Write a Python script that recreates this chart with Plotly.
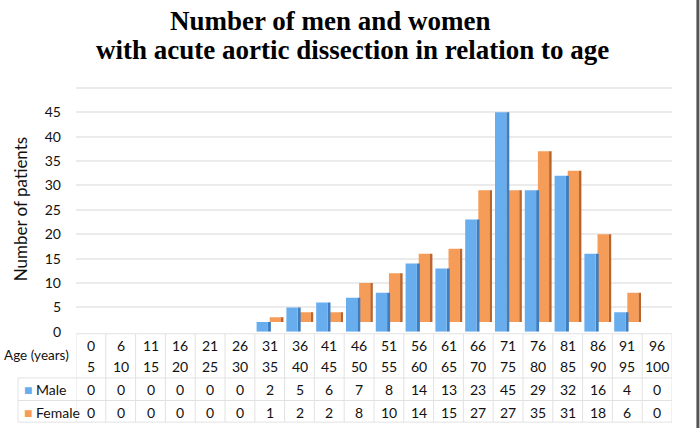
import plotly.graph_objects as go

age_from = [0, 6, 11, 16, 21, 26, 31, 36, 41, 46, 51, 56, 61, 66, 71, 76, 81, 86, 91, 96]
age_to = [5, 10, 15, 20, 25, 30, 35, 40, 45, 50, 55, 60, 65, 70, 75, 80, 85, 90, 95, 100]
male = [0, 0, 0, 0, 0, 0, 2, 5, 6, 7, 8, 14, 13, 23, 45, 29, 32, 16, 4, 0]
female = [0, 0, 0, 0, 0, 0, 1, 2, 2, 8, 10, 14, 15, 27, 27, 35, 31, 18, 6, 0]
y_ticks = [0, 5, 10, 15, 20, 25, 30, 35, 40, 45, 50]

W, H = 700, 436
MALE_C = "#68AEEE"
MALE_SIDE = "#3F7DBE"
FEM_C = "#F59D58"
FEM_SIDE = "#B8652E"
FONT = "Lato"
TXT = "#111"
GRID = "#E2E2E2"
DEPTH = 2.0  # back row (female) sits higher, as in the 3-D original


def py(px):
    return (H - px) / H


x_left, x_right = 76 / W, 672 / W
y_bot, y_top = py(338), py(88)
idx = list(range(len(age_from)))
n = len(idx)

fig = go.Figure()
# back row: female (side face first, then front face)
fig.add_trace(go.Bar(x=idx, y=female, base=DEPTH, marker=dict(color=FEM_SIDE, line=dict(width=0)),
                     width=0.09, offset=0.37, showlegend=False, hoverinfo="skip"))
fig.add_trace(go.Bar(x=idx, y=female, base=DEPTH, name="Female", marker=dict(color=FEM_C, line=dict(width=0)),
                     width=0.38, offset=0.0, showlegend=False))
# front row: male
fig.add_trace(go.Bar(x=idx, y=male, marker=dict(color=MALE_SIDE, line=dict(width=0)),
                     width=0.1, offset=-0.06, showlegend=False, hoverinfo="skip"))
fig.add_trace(go.Bar(x=idx, y=male, name="Male", marker=dict(color=MALE_C, line=dict(width=0)),
                     width=0.38, offset=-0.44, showlegend=False))

ann = []
# title
ann.append(dict(text="<b>Number of men and women</b>", x=330 / W, y=py(21), xref="paper", yref="paper",
                xanchor="center", yanchor="middle",
                showarrow=False, font=dict(family="Liberation Serif", size=27, color="black")))
ann.append(dict(text="<b>with acute aortic dissection in relation to age</b>", x=352 / W, y=py(51),
                xref="paper", yref="paper", showarrow=False, xanchor="center", yanchor="middle",
                font=dict(family="Liberation Serif", size=27, color="black")))
# table text
rows_y = {"from": py(352), "to": py(373), "male": py(397), "female": py(420)}
for i in idx:
    for key, val in (("from", age_from[i]), ("to", age_to[i]), ("male", male[i]), ("female", female[i])):
        ann.append(dict(text=str(val), x=i, y=rows_y[key], xref="x", yref="paper", showarrow=False,
                        xanchor="center", yanchor="middle",
                        font=dict(family=FONT, size=14, color=TXT)))
ann.append(dict(text="Age (years)", x=71 / W, y=py(362), xref="paper", yref="paper", xanchor="right",
                yanchor="middle", showarrow=False, font=dict(family=FONT, size=13.5, color=TXT)))
ann.append(dict(text=f"<span style='color:{MALE_C}'>■</span> Male", x=22 / W, y=rows_y["male"], xref="paper",
                yref="paper", xanchor="left", yanchor="middle", showarrow=False,
                font=dict(family=FONT, size=14, color=TXT)))
ann.append(dict(text=f"<span style='color:{FEM_C}'>■</span> Female", x=22 / W, y=rows_y["female"], xref="paper",
                yref="paper", xanchor="left", yanchor="middle", showarrow=False,
                font=dict(family=FONT, size=14, color=TXT)))

shapes = []
lc = dict(color=GRID, width=1)
shapes.append(dict(type="line", xref="paper", yref="paper", x0=x_left, x1=x_right, y0=py(340), y1=py(340), line=lc))
for yy in (385, 408, 430):
    shapes.append(dict(type="line", xref="paper", yref="paper", x0=18 / W, x1=x_right, y0=py(yy), y1=py(yy), line=lc))
shapes.append(dict(type="line", xref="paper", yref="paper", x0=18 / W, x1=18 / W, y0=py(385), y1=py(430), line=lc))
for k in range(n + 1):
    shapes.append(dict(type="line", xref="x", yref="paper", x0=k - 0.5, x1=k - 0.5, y0=py(340), y1=py(430), line=lc))
shapes.append(dict(type="line", xref="paper", yref="paper", x0=0.997, x1=0.997, y0=0, y1=1,
                   line=dict(color="#555", width=3)))

fig.update_layout(
    width=W, height=H,
    margin=dict(l=0, r=0, t=0, b=0),
    paper_bgcolor="white", plot_bgcolor="white",
    xaxis=dict(domain=[x_left, x_right], range=[-0.5, n - 0.5], showticklabels=False,
               showgrid=False, zeroline=False, showline=False, fixedrange=True),
    yaxis=dict(domain=[y_bot, y_top], range=[0, 50.3], tickvals=y_ticks,
               ticktext=[str(v) if v < 50 else "" for v in y_ticks],
               showgrid=True, gridcolor="#EBEBEB", gridwidth=1.5, zeroline=False,
               tickfont=dict(family=FONT, size=14, color=TXT), ticks="", ticklabelstandoff=14,
               title=dict(text="Number of patients", font=dict(family=FONT, size=17, color=TXT), standoff=12)),
    barmode="overlay",
    annotations=ann,
    shapes=shapes,
)

fig.write_html("out.html")
